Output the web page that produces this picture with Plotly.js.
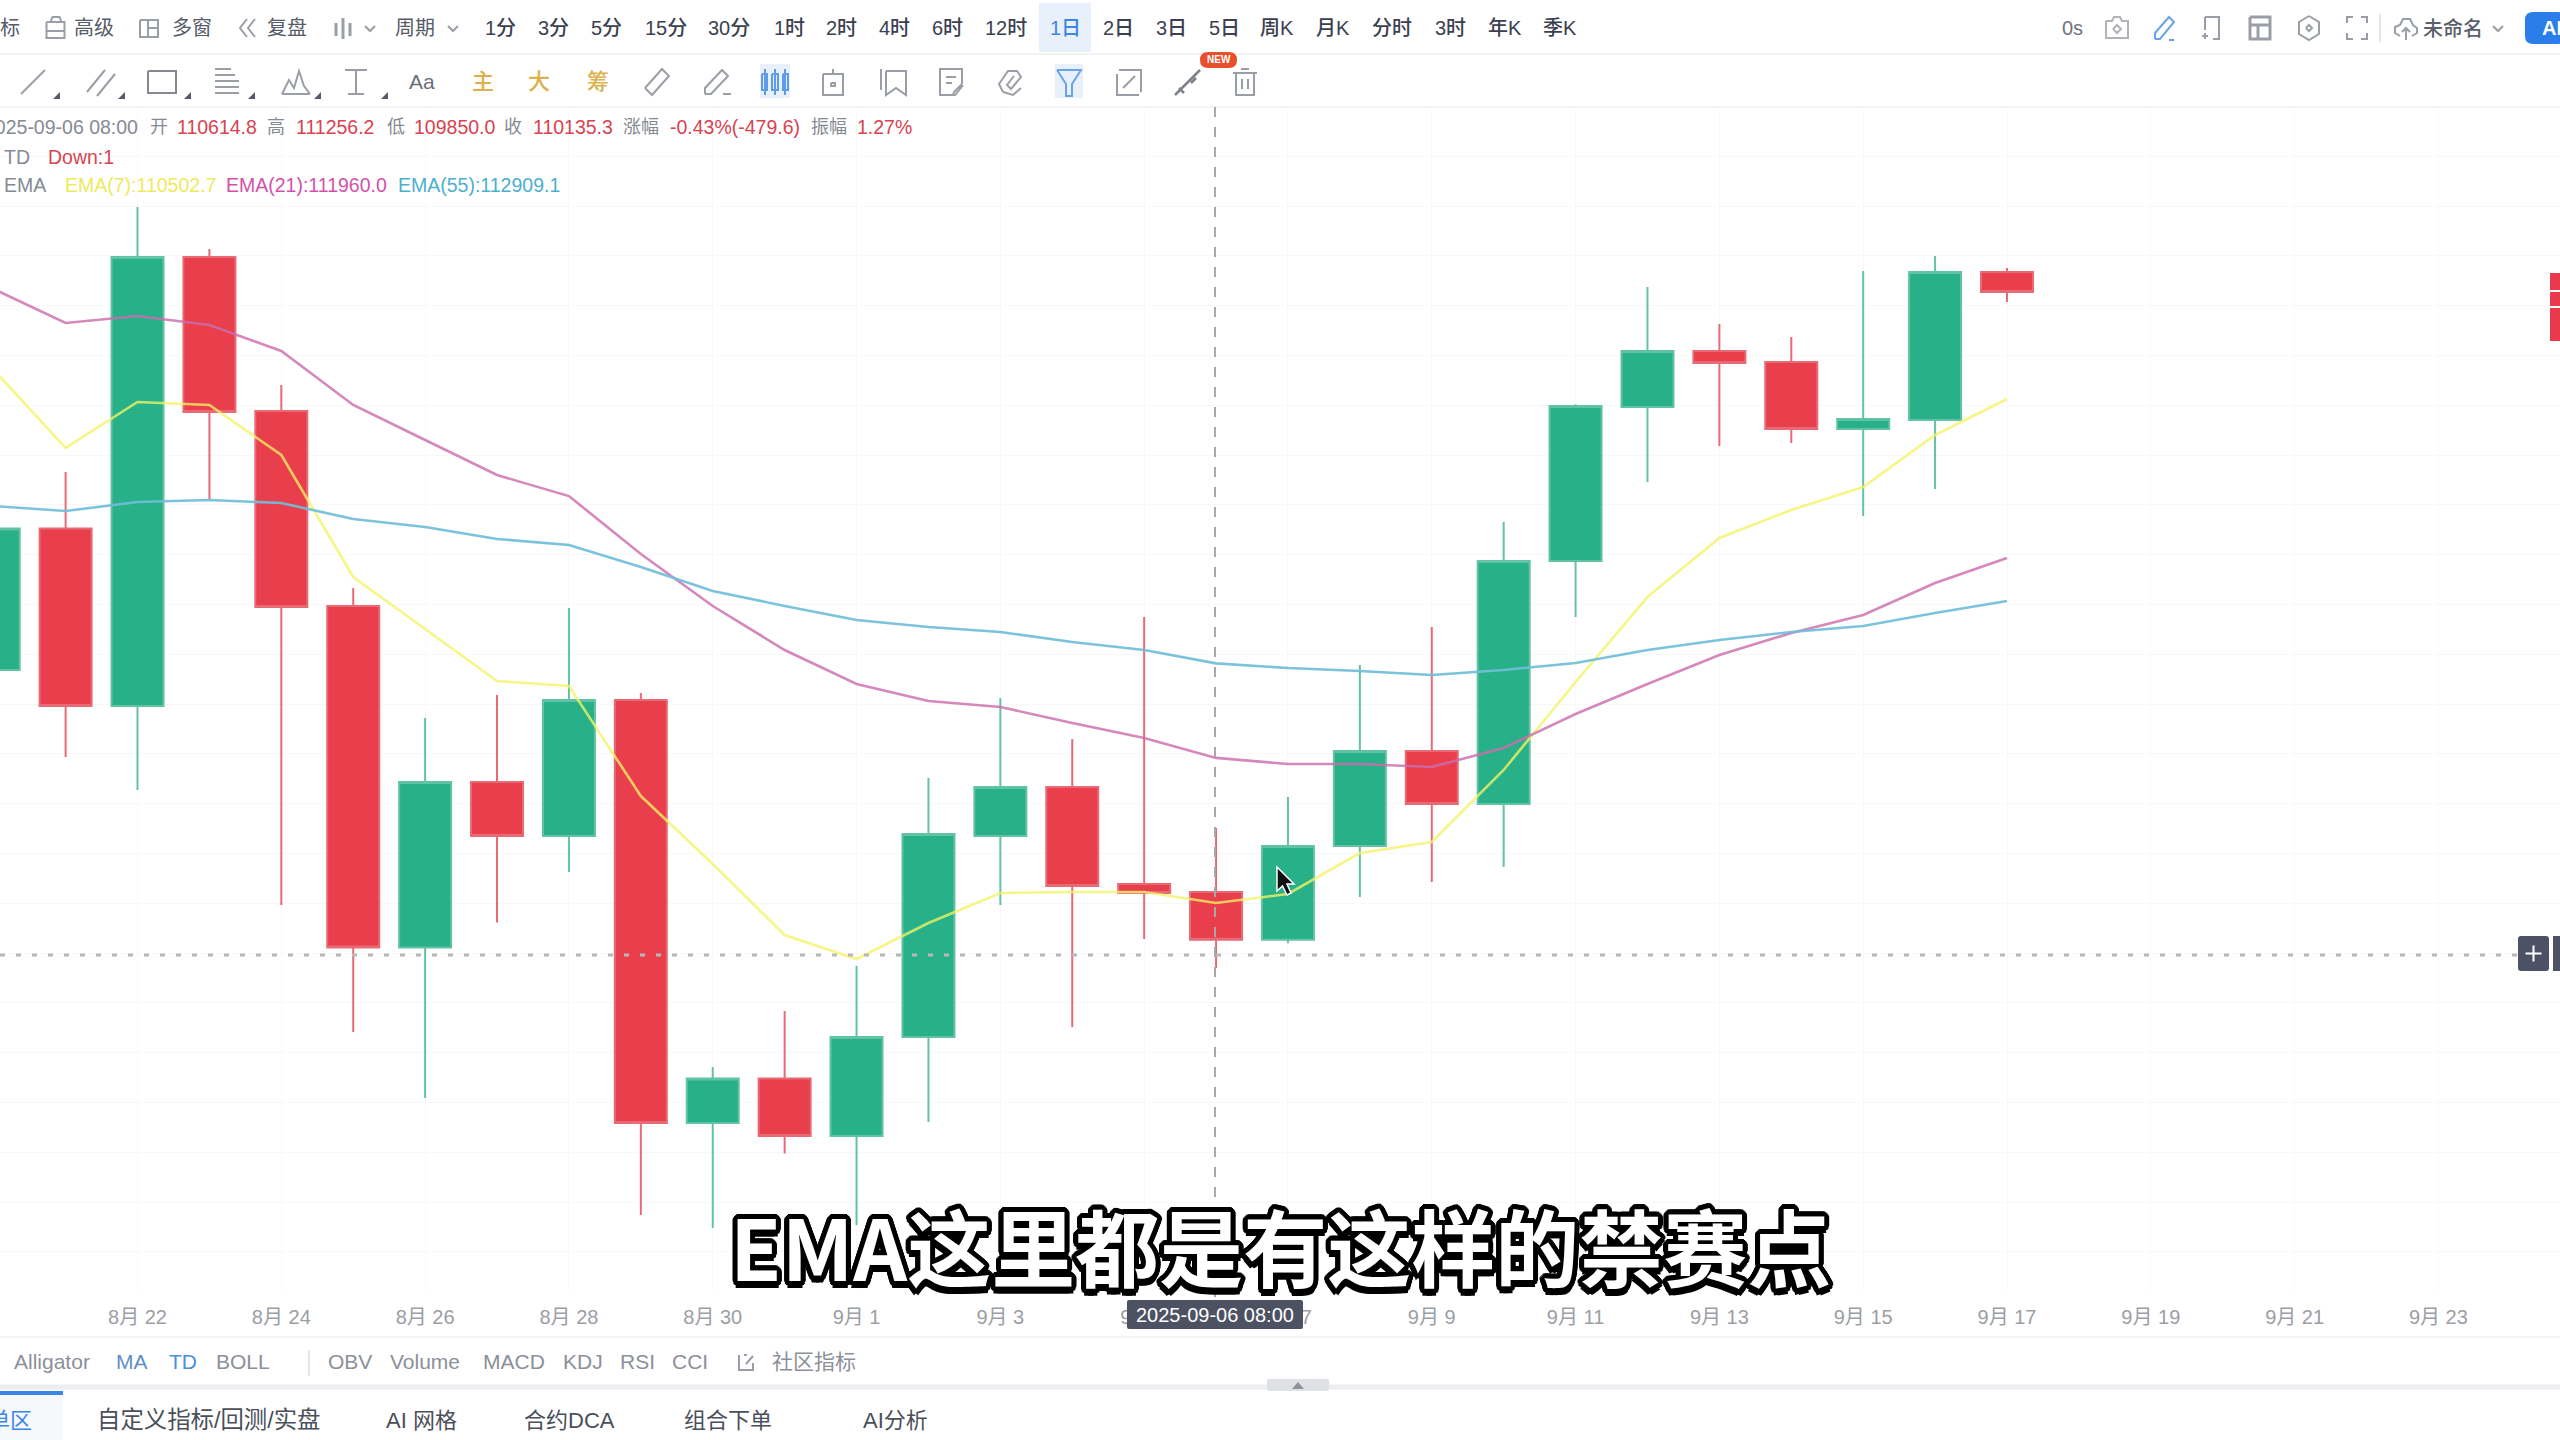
<!DOCTYPE html>
<html><head><meta charset="utf-8">
<script src="https://cdn.plot.ly/plotly-3.0.1.min.js"></script>
<style>html,body{margin:0;padding:0;background:#fff;overflow:hidden}#c{width:2560px;height:1440px}</style>
</head><body><div id="c"></div>
<script>
const dates=['2025-08-20','2025-08-21','2025-08-22','2025-08-23','2025-08-24','2025-08-25','2025-08-26','2025-08-27','2025-08-28','2025-08-29','2025-08-30','2025-08-31','2025-09-01','2025-09-02','2025-09-03','2025-09-04','2025-09-05','2025-09-06','2025-09-07','2025-09-08','2025-09-09','2025-09-10','2025-09-11','2025-09-12','2025-09-13','2025-09-14','2025-09-15','2025-09-16','2025-09-17'];
const open =[112843,114262,112481,116989,115443,113485,110056,111718,111176,112541,108294,108740,108164,109158,111176,111668,110694,110614.8,110135.3,111075,112029,111497,113937,115483,116045,115935,115262,115352,116838];
const high =[114400,114830,117491,117069,115704,113666,112361,112592,113465,112612,108857,109419,109871,111758,112561,112150,113375,111256.2,111567,112893,113274,114328,115510,116688,116317,116186,116848,116999,116879];
const low  =[112500,111969,111638,114559,110483,109208,108545,110307,110814,107371,107240,107987,107270,108304,110483,109258,110142,109850.0,110100,110563,110714,110865,113375,114730,115091,115122,114389,114660,116537];
const close=[114262,112481,116989,115433,113475,110056,111718,111176,112541,108294,108740,108164,109158,111196,111668,110674,110604,110135.3,111075,112029,111497,113937,115493,116045,115925,115262,115362,116838,116638];
const ema7 =[115855,115072,115533,115503,115001,113776,113254,112732,112682,111577,110895,110182,109941,110302,110604,110614,110614,110502.7,110594,111005,111116,111839,112722,113575,114168,114449,114680,115202,115563];
const ema21=[116668,116326,116397,116306,116045,115503,115152,114800,114589,114007,113485,113043,112702,112531,112471,112310,112160,111960.0,111899,111899,111869,112059,112401,112702,112993,113214,113395,113716,113967];
const ema55=[114489,114439,114529,114549,114519,114359,114278,114158,114098,113877,113636,113485,113345,113274,113224,113124,113043,112909.1,112862,112833,112792,112843,112913,113043,113144,113224,113284,113415,113535];
const tickDates=['2025-08-22','2025-08-24','2025-08-26','2025-08-28','2025-08-30','2025-09-01','2025-09-03','2025-09-05','2025-09-07','2025-09-09','2025-09-11','2025-09-13','2025-09-15','2025-09-17','2025-09-19','2025-09-21','2025-09-23'];
const tickLabels=['8月 22','8月 24','8月 26','8月 28','8月 30','9月 1','9月 3','9月 5','9月 7','9月 9','9月 11','9月 13','9月 15','9月 17','9月 19','9月 21','9月 23'];
const periods=[['1分',500],['3分',553],['5分',606],['15分',666],['30分',729],['1时',789],['2时',841],['4时',894],['6时',947],['12时',1006],['1日',1065],['2日',1118],['3日',1171],['5日',1224],['周K',1277],['月K',1333],['分时',1392],['3时',1450],['年K',1504.5],['季K',1560]];
const indicators=[['Alligator',12,0],['MA',114,1],['TD',167,2],['BOLL',214,0],['OBV',326,0],['Volume',388,0],['MACD',481,0],['KDJ',561,0],['RSI',618,0],['CCI',670,0],['社区指标',770,0]];
const tabs=[['自定义指标/回测/实盘',95,23.4],['AI 网格',384,22],['合约DCA',522,22],['组合下单',682,22],['AI分析',861,22]];
const subtitle='EMA这里都是有这样的禁赛点';

const W=2560,H=1440,T=110,B=1290;
const F='"Liberation Sans","Noto Sans CJK SC",sans-serif';
const px=x=>x/W, py=y=>(B-y)/(B-T);
const annotations=[],shapes=[];
function text(s,x,y,size,color,a,weight,extra){annotations.push(Object.assign({xref:'paper',yref:'paper',x:px(x),y:py(y),text:s,showarrow:false,xanchor:a||'center',yanchor:'middle',font:{family:F,size:size,color:color,weight:weight||400}},extra||{}));}
function rect(x0,y0,x1,y1,c,layer){shapes.push({type:'rect',xref:'paper',yref:'paper',x0:px(x0),x1:px(x1),y0:py(y0),y1:py(y1),fillcolor:c,line:{width:0},layer:layer||'below'});}
function hline(x0,x1,y,c,w,dash,layer){shapes.push({type:'line',xref:'paper',yref:'paper',x0:px(x0),x1:px(x1),y0:py(y),y1:py(y),line:{color:c,width:w,dash:dash||'solid'},layer:layer||'below'});}
function vline(x,y0,y1,c,w,dash,layer){shapes.push({type:'line',xref:'paper',yref:'paper',x0:px(x),x1:px(x),y0:py(y0),y1:py(y1),line:{color:c,width:w,dash:dash||'solid'},layer:layer||'below'});}
function poly(pts,close_){let d='';for(let i=0;i<pts.length;i+=2){d+=(i?'L':'M')+px(pts[i]).toFixed(6)+','+py(pts[i+1]).toFixed(6);}return d+(close_?'Z':'');}
function icon(cx,cy,lines,c,w){const d=lines.map(l=>poly(l.map((v,i)=>v+(i%2?cy:cx)))).join('');shapes.push({type:'path',xref:'paper',yref:'paper',path:d,line:{color:c||'#9a9ea6',width:w||2},layer:'above'});}
function filled(pts,c,lc,lw){shapes.push({type:'path',xref:'paper',yref:'paper',path:poly(pts,true),fillcolor:c,line:{color:lc||c,width:lw||0},layer:'above'});}
function rrect(x0,y0,x1,y1,r,c){const q=(x,y)=>px(x).toFixed(6)+','+py(y).toFixed(6);
 const d='M'+q(x0+r,y0)+'L'+q(x1-r,y0)+'Q'+q(x1,y0)+' '+q(x1,y0+r)+'L'+q(x1,y1-r)+'Q'+q(x1,y1)+' '+q(x1-r,y1)+'L'+q(x0+r,y1)+'Q'+q(x0,y1)+' '+q(x0,y1-r)+'L'+q(x0,y0+r)+'Q'+q(x0,y0)+' '+q(x0+r,y0)+'Z';
 shapes.push({type:'path',xref:'paper',yref:'paper',path:d,fillcolor:c,line:{width:0},layer:'above'});}

/* chrome lines */
hline(0,W,54,'#f2f3f5',2);hline(0,W,107,'#f2f3f5',2);hline(0,W,1337,'#f2f3f5',2);
hline(0,W,1387,'#eceef1',5);

/* row 1 */
const DK='#3a4050',G='#9a9ea6',BL='#3d86e6';
text('标',10,28,20,'#555b68');text('高级',94,28,20,'#555b68');text('多窗',192,28,20,'#555b68');text('复盘',287,28,20,'#555b68');text('周期',415,28,20,'#555b68');
icon(55.5,28,[[-9,-6,9,-6,9,10,-9,10,-9,-6],[-5,-6,-3,-11,4,-11,6,-6],[-9,3,9,3]],G);
icon(149,28,[[-9,-8,9,-8,9,9,-9,9,-9,-8],[-1,-8,-1,9],[-1,0,9,0]],G);
icon(249,28,[[-2,-9,-9,0,-2,9],[6,-9,-1,0,6,9]],G);
icon(343,28,[[-7,-5,-7,8],[0,-10,0,11],[7,-5,7,8]],G,3);
[370,453,2498].forEach(x=>icon(x,28,[[-5,-2,0,3,5,-2]],G));
rect(1039,3,1091,52,'#e8f1fb');
periods.forEach(p=>text(p[0],p[1],28,20,p[0]==='1日'?BL:DK,'center',500));
text('0s',2072,28,20,'#6f7480');
icon(2117,28,[[-11,-7,-5,-7,-3,-11,3,-11,5,-7,11,-7,11,10,-11,10,-11,-7],[-4,1,0,-3,4,1,0,5,-4,1]],'#b0b3b9');
icon(2164,28,[[-9,11,-9,5,5,-11,10,-6,-4,11,-9,11],[5,12,10,12]],'#6aa3e8');
icon(2211,28,[[-6,-11,8,-11,8,11,2,11],[-6,-11,-6,2],[-9,8,-3,8],[-6,5,-6,11]],G);
icon(2260,28,[[-10,-11,10,-11,10,11,-10,11,-10,-11],[-10,-3,10,-3],[-2,-3,-2,11]],G,3);
icon(2309,28,[[0,-12,10,-6,10,6,0,12,-10,6,-10,-6,0,-12],[-3,0,0,-3,3,0,0,3,-3,0]],G);
icon(2357,28,[[-10,-5,-10,-11,-4,-11],[4,-11,10,-11,10,-5],[10,5,10,11,4,11],[-4,11,-10,11,-10,5]],G);
vline(2380,14,42,'#e5e6e9',2);
icon(2406,28,[[-6,8,-11,5,-11,-1,-6,-3,-3,-9,4,-9,7,-3,11,0,11,5,6,8],[0,12,0,0],[-4,4,0,0,4,4]],G);
text('未命名',2453,28,20,'#5a5f6b','center',500);
rrect(2525,12,2566,44,8,'#2b7de9');text('AI',2552,28,20,'#ffffff','center',700);

/* row 2 */
const Y2=82;
icon(33,Y2,[[-12,12,12,-12]],G);
icon(102,Y2,[[-15,10,3,-12],[-5,14,13,-8]],G);
icon(162,Y2,[[-14,-11,14,-11,14,11,-14,11,-14,-11]],'#85898f');
icon(227,Y2,[[-12,-13,4,-13],[-12,-7,8,-7],[-12,-1,12,-1],[-12,5,12,5],[-12,11,12,11]],G);
icon(296,Y2,[[-14,12,-7,-2,-2,6,3,-11,8,4,14,12],[-14,12,14,12]],G);
icon(356,Y2,[[-11,-12,11,-12],[0,-12,0,12],[-8,12,8,12]],G);
[57,122,188,252,318,385].forEach(x=>filled([x-4,99,x+3,99,x+3,92],'#555b68'));
text('Aa',422,Y2,21,'#6a6f7a');
[['主',483],['大',539],['筹',598]].forEach(t=>text(t[0],t[1],Y2,22,'#dcb04a','center',500));
icon(657,Y2,[[-12,6,5,-13,12,-6,-5,13,-12,6]],G);
icon(717,Y2,[[-12,12,-12,6,5,-12,11,-6,-6,12,-12,12],[6,12,14,12]],G);
rect(760,64,790,98,'#e8f1fb');
icon(775,Y2,[[-13,-8,-8,-8,-8,8,-13,8,-13,-8],[-3,-8,3,-8,3,8,-3,8,-3,-8],[8,-8,13,-8,13,8,8,8,8,-8],[-10,-13,-10,13],[0,-13,0,13],[10,-13,10,13]],'#5f9ce8');
icon(833,Y2,[[-10,-8,10,-8,10,13,-10,13,-10,-8],[0,-13,0,-8],[-2,1,2,1,2,4,-2,4,-2,1]],G);
icon(894,Y2,[[-8,-11,12,-11,12,13,2,6,-8,13,-8,-11],[-13,-13,-13,8]],G);
icon(951,Y2,[[11,2,11,-13,-11,-13,-11,13,2,13],[-5,-5,5,-5],[-5,1,1,1],[12,3,4,13,2,13,3,10,11,2]],G);
icon(1011,Y2,[[-8,10,-12,2,-3,-11,6,-11,10,-5,0,7,-4,3,3,-6],[-8,10,2,13,10,6]],G);
rect(1055,64,1083,98,'#e8f1fb');
icon(1069,Y2,[[-12,-12,12,-12,3,2,3,14,-3,14,-3,2,-12,-12]],'#6aa3e8');
icon(1129,Y2,[[-10,-12,12,-12,12,10],[-12,-8,-12,13,10,13],[-6,6,6,-6]],G);
icon(1188,Y2,[[-13,13,12,-12],[-9,6,-4,11],[3,1,8,-4]],'#7d818a',2.5);
rrect(1200,52,1237,68,8,'#e8502c');text('NEW',1218.5,60,10,'#ffffff','center',700);
icon(1245,Y2,[[-12,-9,12,-9],[-9,-9,-9,13,9,13,9,-9],[-4,-13,4,-13],[-3,-3,-3,7],[3,-3,3,7]],G);

/* OHLC legend */
const LG='#868a94',LR='#d8434f';
text('2025-09-06 08:00',140,127.5,19.5,LG,'right');
[['开',159,0],['110614.8',175,1],['高',276,0],['111256.2',294,1],['低',396,0],['109850.0',412,1],['收',513,0],['110135.3',531,1],['涨幅',641,0],['-0.43%(-479.6)',668,1],['振幅',829,0],['1.27%',855,1]].forEach(t=>{
  if(t[2]) text(t[0],t[1],127.5,19.5,LR,'left'); else text(t[0],t[1],127.5,18,LG,'center');});
text('TD',2,157,19.5,LG,'left');text('Down:1',46,157,19.5,LR,'left');
text('EMA',2,185,19.5,LG,'left');
text('EMA(7):110502.7',62.5,185,19.5,'#eeea5c','left');
text('EMA(21):111960.0',223.5,185,19.5,'#d451a8','left');
text('EMA(55):112909.1',395.5,185,19.5,'#4cb0cc','left');

/* bottom */
indicators.forEach(i=>text(i[0],i[1],1361,21,i[2]===2?'#4b8fe0':i[2]===1?'#5f8fc8':'#8b909a','left'));
vline(309,1350,1376,'#e5e6e9',2);
icon(746,1362,[[-7,-7,-7,8,7,8,7,1],[-2,-7,1,-7],[0,2,7,-6]],'#9a9ea6');
rrect(1267,1379,1329,1391,2,'#dfe1e5');filled([1292,1389,1304,1389,1298,1382],'#8d919a');
rect(0,1393,63,1440,'#f6f8fb');hline(0,63,1393,'#3d86e6',4,'solid','above');
text('单区',34,1420,22,'#3d86e6','right');
tabs.forEach(t=>text(t[0],t[1],1420,t[2],'#4a4f5a','left'));

/* crosshair + price tag + edge */
vline(1215,107,1300,'#a8a8a8',2,'10px,10px','above');
hline(0,2518,955,'#b8b8b8',3,'5px,11px','above');
rrect(2518,936,2549,971,3,'#4c5166');icon(2533.5,953.5,[[-8,0,8,0],[0,-8,0,8]],'#ffffff',2);
rect(2553,936,2560,971,'#4c5166','above');
[[273,290],[292,306],[308,341]].forEach(r=>rect(2550,r[0],2560,r[1],'#e8394d','above'));
rrect(1127,1300,1303,1329,2,'#4d5262');
text('2025-09-06 08:00',1215,1315,20,'#ffffff');
/* mouse pointer */
filled([1277,867,1277,891,1282.5,886,1287,895,1291,893,1287,884,1294,884],'#111111','#ffffff',1.5);

/* caption */
const sh=[];for(let a=0;a<24;a++){const t=a/24*2*Math.PI;sh.push((5*Math.cos(t)).toFixed(1)+'px '+(5*Math.sin(t)).toFixed(1)+'px 0 #000');}
sh.push('0px 6px 0 #000','2px 7px 0 #000','-2px 7px 0 #000');
annotations.push({xref:'paper',yref:'paper',x:px(1280),y:py(1244),text:subtitle,showarrow:false,xanchor:'center',yanchor:'middle',font:{family:'"Noto Sans CJK SC",sans-serif',size:84,color:'#ffffff',weight:700,shadow:sh.join(',')}});

const lineOpts=(y,c)=>({type:'scatter',mode:'lines',x:dates,y:y,line:{color:c,width:2.6},hoverinfo:'skip',showlegend:false});
const data=[
 {type:'candlestick',x:dates,open:open,high:high,low:low,close:close,showlegend:false,hoverinfo:'skip',whiskerwidth:0,
  increasing:{line:{color:'#62c2a4',width:2},fillcolor:'#28b088'},
  decreasing:{line:{color:'#e86a75',width:2},fillcolor:'#e93e4c'}},
 lineOpts(ema7,'rgba(243,243,100,0.78)'),
 lineOpts(ema21,'rgba(204,110,172,0.82)'),
 lineOpts(ema55,'rgba(112,190,216,0.92)')
];
const layout={width:W,height:H,margin:{l:0,r:0,t:T,b:H-B,pad:0},paper_bgcolor:'#ffffff',plot_bgcolor:'#ffffff',showlegend:false,boxmode:'overlay',boxgap:0.277,boxgroupgap:0,hovermode:false,
 xaxis:{type:'date',range:['2025-08-20 02:06','2025-09-24 16:35'],tickmode:'array',tickvals:tickDates,ticktext:tickLabels,showgrid:true,gridcolor:'#f8f8f9',gridwidth:1,zeroline:false,showline:false,ticks:'outside',ticklen:9,tickcolor:'rgba(0,0,0,0)',tickfont:{family:F,size:20,color:'#9a9ea6'},rangeslider:{visible:false},fixedrange:true},
 yaxis:{range:[106617.7,118464.9],dtick:500,tick0:0,showgrid:true,gridcolor:'#f8f8f9',gridwidth:1,zeroline:false,showline:false,showticklabels:false,ticks:'',fixedrange:true},
 shapes:shapes,annotations:annotations};
Plotly.newPlot('c',data,layout,{displayModeBar:false,staticPlot:true,responsive:false});
</script></body></html>
